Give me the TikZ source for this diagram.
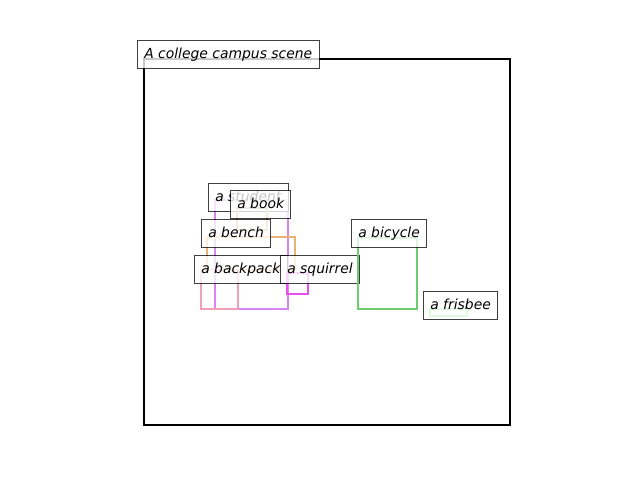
\documentclass[tikz,border=0pt]{standalone}
\usepackage{fontspec}
\setmainfont{DejaVu Sans}
\definecolor{cstudent}{RGB}{218,132,240}
\definecolor{cbook}{RGB}{205,165,125}
\definecolor{cbench}{RGB}{235,178,120}
\definecolor{cbackpack}{RGB}{240,160,180}
\definecolor{csquirrel}{RGB}{232,80,240}
\definecolor{cbicycle}{RGB}{110,205,110}
\definecolor{cfrisbee}{RGB}{110,225,110}
\tikzset{
  lbl/.style={draw=black, draw opacity=0.75, fill=white, fill opacity=0.78, text opacity=1,
    line width=1pt, anchor=north west, inner xsep=6.8pt, inner ysep=7pt,
    text height=10.5pt, text depth=3.3pt,
    font=\fontsize{13.9}{16}\selectfont\itshape},
  bbox/.style={line width=2.8pt, draw=#1}
}
\begin{document}
\begin{tikzpicture}[x=1pt,y=-1pt]
\useasboundingbox (0,0) rectangle (640,480);
\draw[line width=2pt, black] (144,59) rectangle (510,425);
\node[lbl] (title) at (137,40) {A college campus scene};
% student
\draw[bbox=cstudent] (215,200) rectangle (288,309);
\node[lbl] (lstudent) at (208,183) {a student};
% book
\draw[bbox=cbook] (237,208) rectangle (267,230);
\node[lbl] (lbook) at (230,190) {a book};
% bench
\draw[bbox=cbench] (207,237) rectangle (295,270);
\node[lbl] (lbench) at (201,219) {a bench};
% backpack
\draw[bbox=cbackpack] (201,270) rectangle (238,309);
\node[lbl] (lbackpack) at (194,255) {a backpack};
% squirrel
\draw[bbox=csquirrel] (287,273) rectangle (308,294);
\node[lbl] (lsquirrel) at (280,255) {a squirrel};
% bicycle
\draw[bbox=cbicycle] (358,238) rectangle (417,309);
\node[lbl] (lbicycle) at (351,219) {a bicycle};
% frisbee
\draw[bbox=cfrisbee] (430,309) rectangle (467,316);
\node[lbl] (lfrisbee) at (423,291) {a frisbee};
\end{tikzpicture}
\end{document}
